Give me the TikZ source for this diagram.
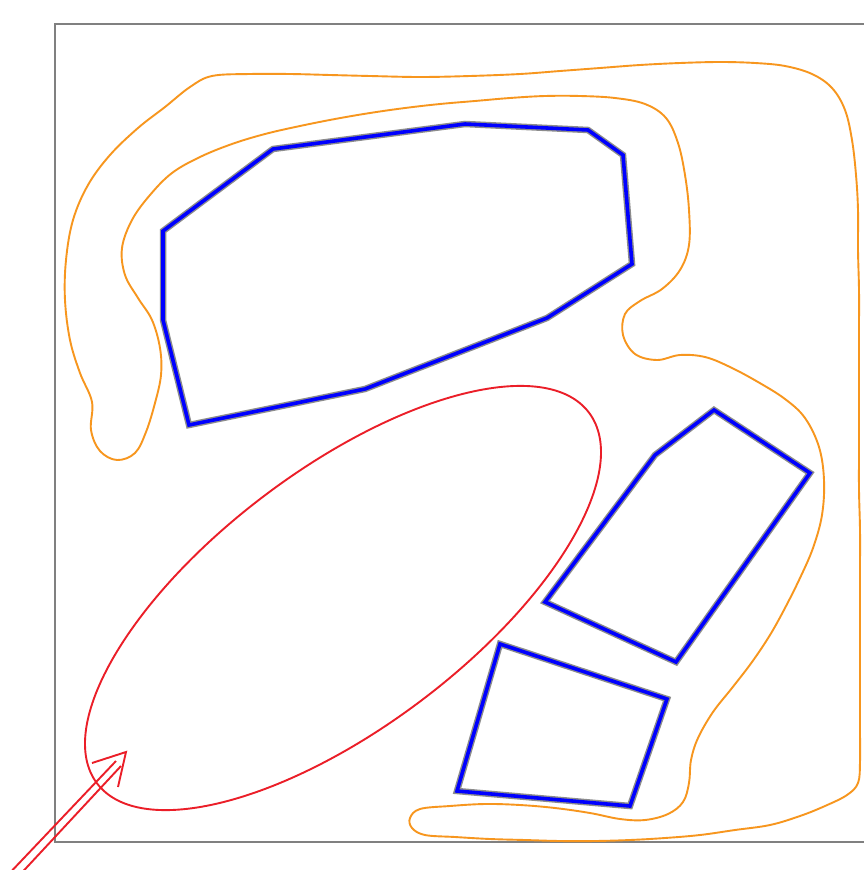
\documentclass[tikz,border=0pt]{standalone}
\definecolor{orangec}{RGB}{247,150,30}
\definecolor{redc}{RGB}{235,30,40}
\definecolor{framec}{RGB}{128,128,128}
\tikzset{
  frameline/.style={draw=framec, line width=1.8pt},
  obsouter/.style={draw=gray!90, line width=6.5pt, line join=miter},
  obsinner/.style={draw=blue, line width=3.6pt, line join=miter},
  orangeline/.style={draw=orangec, line width=1.9pt},
  redline/.style={draw=redc, line width=1.9pt},
}
\begin{document}
\begin{tikzpicture}[x=1pt,y=-1pt]
\clip (0,0) rectangle (864,870);
\fill[white] (0,0) rectangle (864,870);
% frame
\draw[frameline] (55,24) rectangle (900,842);
% orange boundary
\draw[orangeline] plot[smooth cycle, tension=0.6] coordinates {
(212,76) (250,74) (290,74) (330,75) (370,76) (420,77) (470,76) (520,74) (560,71) (600,68) (640,65) (680,63) (720,62) (755,63) (785,66) (812,74) (832,88) (845,110) (852,140) (856,175) (858,210) (858,250) (859,290) (859,330) (859,370) (859,410) (859,450) (859,490) (860,530) (860,570) (860,610) (860,650) (860,690) (860,730) (860,762) (858,783) (847,795) (825,806) (800,816) (770,825) (735,830) (700,835) (665,838) (630,840) (595,841) (560,841) (525,840) (490,839) (455,837) (425,835) (412,828) (410,818) (420,809) (450,806) (485,804) (520,805) (555,808) (590,813) (620,819) (645,820) (668,814) (683,802) (689,783) (691,760) (698,738) (713,712) (732,688) (752,662) (770,635) (785,608) (800,578) (813,548) (822,515) (824,480) (819,447) (805,418) (785,399) (758,382) (730,367) (705,357) (680,355) (657,360) (635,354) (623,335) (625,314) (640,301) (662,289) (680,270) (689,245) (689,210) (685,175) (678,143) (666,118) (645,104) (615,98) (580,96) (545,96) (510,98) (475,101) (440,104) (405,108) (370,113) (335,119) (300,126) (265,134) (232,144) (200,157) (172,173) (150,195) (132,220) (122,248) (125,275) (138,298) (152,320) (160,348) (161,375) (155,403) (146,432) (135,453) (117,460) (100,451) (91,430) (92,402) (80,373) (70,340) (65,300) (66,260) (73,220) (88,185) (110,155) (138,128) (165,107) (190,87)
};
% obstacles
\foreach \s in {obsouter,obsinner}{
  \draw[\s] (163,231) -- (273,149) -- (465,124) -- (588,130) -- (623,155) -- (632,264) -- (547,318) -- (365,389) -- (189,425) -- (163,320) -- cycle;
  \draw[\s] (545,602) -- (655,455) -- (714,410) -- (810,473) -- (676,662) -- cycle;
  \draw[\s] (500,644) -- (667,699) -- (630,806) -- (457,791) -- cycle;
}
% red ellipse
\draw[redline, rotate around={37:(343,598)}] (343,598) ellipse [x radius=308, y radius=129];
% red double arrow
\coordinate (l1) at (5,878);
\coordinate (l2) at (116,761);
\coordinate (r1) at (15,880);
\coordinate (r2) at (121,766);
\coordinate (tip) at (126,752);
\coordinate (h1) at (92,763);
\coordinate (h2) at (118,787);
\draw[redline] (l1) -- (l2);
\draw[redline] (r1) -- (r2);
\draw[redline, line join=miter] (h1) -- (tip) -- (h2);
\end{tikzpicture}
\end{document}
